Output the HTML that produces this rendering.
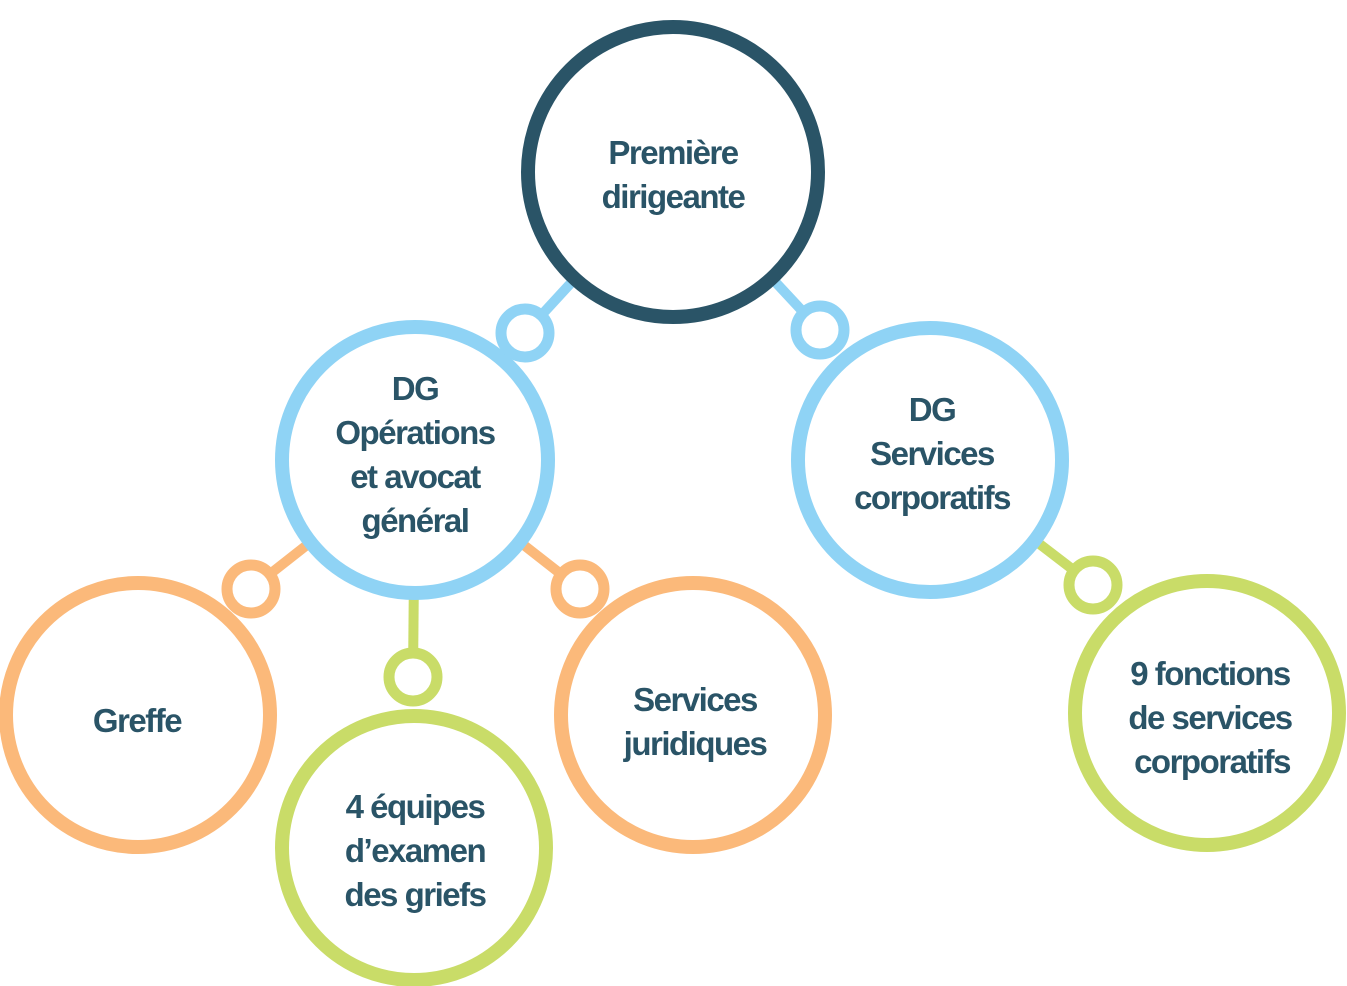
<!DOCTYPE html>
<html><head><meta charset="utf-8"><style>
html,body{margin:0;padding:0;background:#fff;}
svg{display:block}
text{font-family:"Liberation Sans",sans-serif;font-weight:bold;font-size:33px;fill:#2a5467;text-anchor:middle;letter-spacing:-1.5px}
</style></head><body>
<svg width="1347" height="986" viewBox="0 0 1347 986">
<g stroke-width="10">
<line x1="673" y1="172" x2="525" y2="333" stroke="#8fd3f5"/>
<line x1="673" y1="172" x2="820" y2="330" stroke="#8fd3f5"/>
<line x1="415" y1="460" x2="251" y2="589" stroke="#fbb97a"/>
<line x1="415" y1="460" x2="580" y2="589" stroke="#fbb97a"/>
<line x1="415" y1="460" x2="413" y2="677" stroke="#c9dc68"/>
<line x1="930" y1="460" x2="1093" y2="585" stroke="#c9dc68"/>
</g>
<g fill="#fff" stroke-width="14">
<circle cx="673" cy="172" r="145" stroke="#2a5467"/>
<circle cx="415" cy="460" r="133" stroke="#8fd3f5"/>
<circle cx="930" cy="460" r="132" stroke="#8fd3f5"/>
<circle cx="138" cy="715" r="132" stroke="#fbb97a"/>
<circle cx="693" cy="715" r="132" stroke="#fbb97a"/>
<circle cx="414" cy="848" r="132" stroke="#c9dc68"/>
<circle cx="1207" cy="713" r="132" stroke="#c9dc68"/>
</g>
<g fill="#fff" stroke-width="11">
<circle cx="525" cy="333" r="24" stroke="#8fd3f5"/>
<circle cx="820" cy="330" r="24" stroke="#8fd3f5"/>
<circle cx="251" cy="589" r="24" stroke="#fbb97a"/>
<circle cx="580" cy="589" r="24" stroke="#fbb97a"/>
<circle cx="413" cy="677" r="24" stroke="#c9dc68"/>
<circle cx="1093" cy="585" r="24" stroke="#c9dc68"/>
</g>
<text x="673" y="164">Première</text>
<text x="673" y="208">dirigeante</text>
<text x="415" y="400">DG</text>
<text x="415" y="444">Opérations</text>
<text x="415" y="488">et avocat</text>
<text x="415" y="532">général</text>
<text x="932" y="421">DG</text>
<text x="932" y="465">Services</text>
<text x="932" y="509">corporatifs</text>
<text x="137" y="732">Greffe</text>
<text x="695" y="711">Services</text>
<text x="695" y="755">juridiques</text>
<text x="415" y="818">4 équipes</text>
<text x="415" y="862">d’examen</text>
<text x="415" y="906">des griefs</text>
<text x="1210" y="685">9 fonctions</text>
<text x="1210" y="729">de services</text>
<text x="1212" y="773">corporatifs</text>
</svg>
</body></html>
